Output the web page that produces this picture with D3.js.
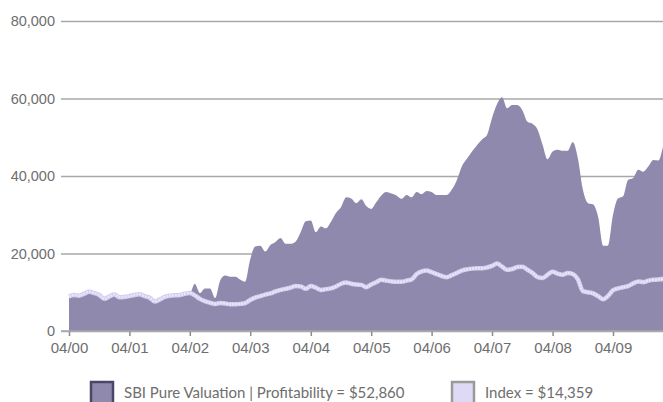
<!DOCTYPE html>
<html>
<head>
<meta charset="utf-8">
<script src="https://cdn.jsdelivr.net/npm/d3@7"></script>
<style>
  body { margin: 0; background: #fff; }
  svg { display: block; font-family: Lato, "Open Sans", sans-serif; }
</style>
</head>
<body>
<svg id="chart" width="663" height="402"></svg>
<script>
// monthly values, starting 04/2000
var sbiValues = [
  8600, 9000, 8800, 9300, 9800, 9500, 9000, 8000, 8600, 9100, 8400, 8500,
  8700, 9000, 9200, 8700, 8300, 7300, 7800, 8500, 8800, 8900, 9000, 9300,
  9600, 12200, 9800, 11000, 11000, 8500, 13000, 14300, 14000, 14000, 13200, 12700,
  18500, 21800, 22000, 20500, 22200, 23000, 24000, 22500, 22500, 23100, 25600, 28300,
  28500, 25500, 27000, 26500, 28200, 30500, 32000, 34500, 34200, 33000, 34000, 32300,
  31500, 33200, 35000, 35900, 35500, 35000, 34100, 35100, 34500, 35900, 35300, 36100,
  35900, 35100, 35100, 35100, 36500, 39000, 42500, 44500, 46300, 48000, 49500, 50500,
  55000, 58500, 60300, 57500, 58300, 58300, 57000, 54000, 53500, 52000, 48000, 44300,
  46300, 46800, 46500, 46500, 48800, 44500, 36500, 33000, 32700, 29500, 22000, 22000,
  30000, 34200, 34800, 39000, 39500, 41600, 41100, 42500, 44100, 44000, 48000, 51000,
  52860
];
var indexValues = [
  8900, 9300, 9100, 9600, 10100, 9800, 9300, 8300, 8900, 9400, 8700, 8800,
  9000, 9300, 9500, 9000, 8600, 7600, 8100, 8800, 9100, 9200, 9300, 9600,
  9800, 9200, 8300, 7700, 7300, 7000, 7200, 7100, 6900, 6900, 7000, 7200,
  8000, 8600, 9000, 9400, 9700, 10200, 10600, 10900, 11200, 11600, 11500, 10900,
  11600, 11200, 10600, 10800, 11000, 11500, 12200, 12500, 12200, 12000, 11900, 11300,
  12000, 12600, 13200, 13000, 12800, 12700, 12700, 13000, 13300, 14700, 15400, 15600,
  15200, 14700, 14200, 13900, 14400, 15000, 15600, 15900, 16100, 16200, 16200, 16400,
  16800, 17400, 16600, 15800, 16000, 16500, 16600, 15800, 15000, 13900, 13700, 14500,
  15300, 14800, 14500, 15000, 14700, 13300, 10300, 10000, 9700, 9000, 8200, 9000,
  10500, 11000, 11300, 11600, 12300, 12800, 12600, 13000, 13200, 13300, 13500, 14000,
  14359
];
var yTicks = [0, 20000, 40000, 60000, 80000];
var xTickYears = [2000, 2001, 2002, 2003, 2004, 2005, 2006, 2007, 2008, 2009];
var legendLabels = ["SBI Pure Valuation | Profitability = $52,860", "Index = $14,359"];

var startDate = new Date(2000, 3, 1);
var data = sbiValues.map(function(v, i) {
  return { date: d3.timeMonth.offset(startDate, i), sbi: v, index: indexValues[i] };
});

var svg = d3.select("#chart");

var x = d3.scaleTime()
  .domain([startDate, new Date(2009, 3, 1)])
  .range([69, 613]);
var y = d3.scaleLinear().domain([0, 80000]).range([331, 21]);

// gridlines + y labels
var yAxis = svg.append("g")
  .attr("transform", "translate(61,0)")
  .call(d3.axisLeft(y).tickValues(yTicks).tickSize(-602).tickPadding(6).tickFormat(d3.format(",")));
yAxis.select(".domain").remove();
yAxis.selectAll("line").attr("stroke", "#a8a8a8").attr("stroke-width", 1.6);
yAxis.selectAll("text").attr("fill", "#6e6e6e").style("font-size", "14.5px");

// SBI area
svg.append("path")
  .datum(data)
  .attr("fill", "#8f8aad")
  .attr("d", d3.area()
    .x(function(d) { return x(d.date); })
    .y0(y(0))
    .y1(function(d) { return y(d.sbi); })
    .curve(d3.curveMonotoneX));

// index line (light, slightly textured)
var indexLine = d3.line()
  .x(function(d) { return x(d.date); })
  .y(function(d) { return y(d.index); })
  .curve(d3.curveMonotoneX);
svg.append("path")
  .datum(data)
  .attr("fill", "none")
  .attr("stroke", "#d3cdee")
  .attr("stroke-width", 4.5)
  .attr("d", indexLine);
svg.append("path")
  .datum(data)
  .attr("fill", "none")
  .attr("stroke", "#e9e6f9")
  .attr("stroke-width", 2.5)
  .attr("stroke-dasharray", "2,1")
  .attr("d", indexLine);

// x axis
var xAxis = svg.append("g")
  .attr("transform", "translate(0,331)")
  .call(d3.axisBottom(x)
    .tickValues(xTickYears.map(function(yr) { return new Date(yr, 3, 1); }))
    .tickSize(5).tickPadding(6)
    .tickFormat(d3.timeFormat("%m/%y")));
xAxis.select(".domain").remove();
xAxis.selectAll("line").attr("stroke", "#8c8c8c").attr("stroke-width", 1.5);
xAxis.selectAll("text").attr("fill", "#6e6e6e").style("font-size", "15px");
svg.append("line")
  .attr("x1", 61).attr("x2", 663)
  .attr("y1", y(0)).attr("y2", y(0))
  .attr("stroke", "#a8a8a8").attr("stroke-width", 1.6);

// legend
var legend = [
  { label: legendLabels[0], fill: "#8f8aad", stroke: "#4b4667", x: 91, tx: 124 },
  { label: legendLabels[1], fill: "#dedaf6", stroke: "#9a9a9a", x: 452, tx: 485 }
];
var lg = svg.selectAll(".legend").data(legend).enter().append("g").attr("class", "legend");
lg.append("rect")
  .attr("x", function(d) { return d.x; })
  .attr("y", 382)
  .attr("width", 22).attr("height", 24)
  .attr("fill", function(d) { return d.fill; })
  .attr("stroke", function(d) { return d.stroke; })
  .attr("stroke-width", 2.5);
lg.append("text")
  .attr("x", function(d) { return d.tx; })
  .attr("y", 398)
  .attr("fill", "#6e6e6e")
  .style("font-size", "15px")
  .text(function(d) { return d.label; });
</script>
</body>
</html>
